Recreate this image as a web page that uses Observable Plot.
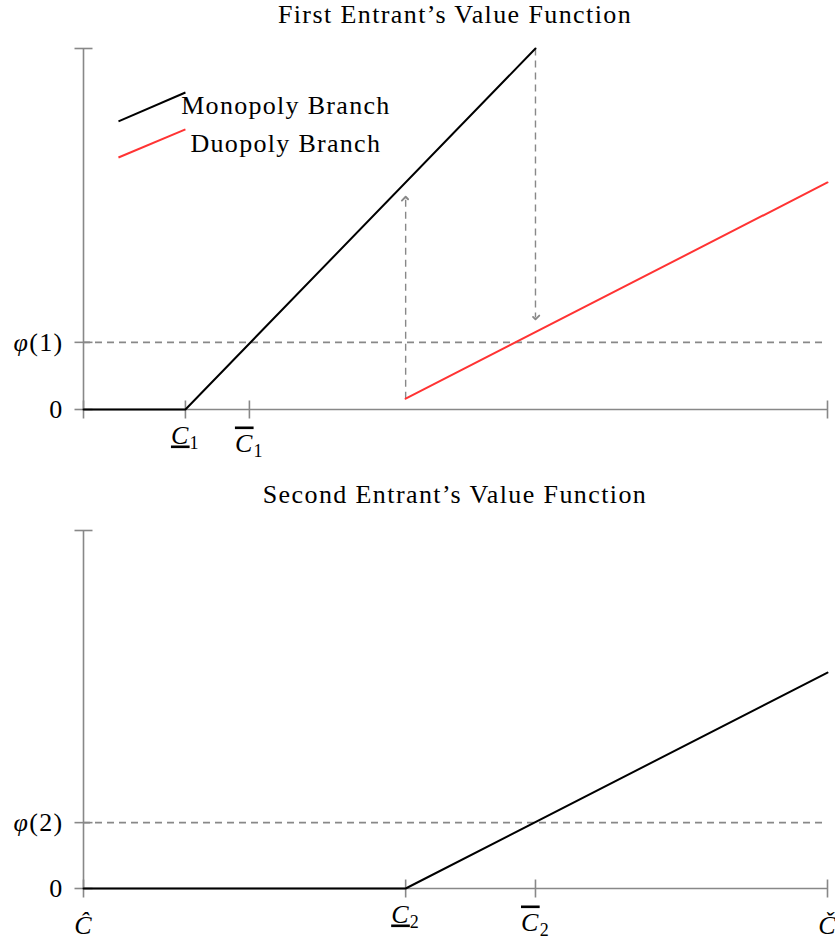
<!DOCTYPE html>
<html><head><meta charset="utf-8">
<script src="https://cdn.jsdelivr.net/npm/d3@7"></script>
<script src="https://cdn.jsdelivr.net/npm/@observablehq/plot@0.6"></script>
<style>
body{margin:0;background:#fff;}
#wrap{position:relative;width:835px;height:941px;overflow:hidden;font-family:"Liberation Serif",serif;}
.title{position:absolute;left:83px;width:744px;text-align:center;font-size:26px;line-height:30px;letter-spacing:1.4px;color:#000;}
#wrap svg{position:absolute;left:0;}
</style></head><body><div id="wrap"></div>
<script>
// ---- shared scales (abstract units) ----
const xDomain = [0, 100];
const yDomain = [0, 100];

// ---- top panel: First Entrant ----
const titleTop = "First Entrant\u2019s Value Function";
const monoX = [0, 13.7, 60.75];
const monoY = [0, 0, 100];
const duoX = [43.3, 100];
const duoY = [3.0, 62.9];
const phi1 = 18.6;
const xTicksTop = [0, 13.7, 22.3, 100];
const xTickLabelsTop = ["", "\\underline{C}_1", "\\overline{C}_1", ""];
const yTicksTop = [0, phi1, 100];
const yTickLabelsTop = ["0", "\\varphi(1)", ""];
const arrowUpX = 43.3, arrowUpFrom = 3.0, arrowUpTo = 58.4;
const arrowDownX = 60.75, arrowDownFrom = 100, arrowDownTo = 25.5;
const legendNames = ["Monopoly Branch", "Duopoly Branch"];
const legendColors = ["#000000", "#ff3333"];
const legendX1 = [4.7, 4.7], legendY1 = [79.8, 69.8];
const legendX2 = [13.7, 13.7], legendY2 = [87.8, 77.6];
const legendTextX = [27.2, 27.2], legendTextY = [84.2, 73.7];

// ---- bottom panel: Second Entrant ----
const titleBottom = "Second Entrant\u2019s Value Function";
const secX = [0, 43.3, 100];
const secY = [0, 0, 60.3];
const phi2 = 18.4;
const xTicksBottom = [0, 43.3, 60.75, 100];
const xTickLabelsBottom = ["\\hat{C}", "\\underline{C}_2", "\\overline{C}_2", "\\check{C}"];
const yTicksBottom = [0, phi2, 100];
const yTickLabelsBottom = ["0", "\\varphi(2)", ""];

// ---- styles ----
const gray = "#888888";
const dash = "7,5";
const vTick = {draw(ctx){ ctx.moveTo(0,-9); ctx.lineTo(0,9); }};
const hTick = {draw(ctx){ ctx.moveTo(-9,0); ctx.lineTo(9,0); }};

const pts = (xs, ys) => xs.map((x, i) => ({x, y: ys[i]}));

function axesMarks(xTicks, xLabels, yTicks, yLabels) {
  return [
    Plot.ruleY([0], {stroke: gray, strokeWidth: 1.6}),
    Plot.ruleX([0], {stroke: gray, strokeWidth: 1.6}),
    Plot.dot(xTicks, {x: d => d, y: 0, symbol: vTick, fill: "none", stroke: gray, strokeWidth: 1.6}),
    Plot.dot(yTicks, {x: 0, y: d => d, symbol: hTick, fill: "none", stroke: gray, strokeWidth: 1.6}),
    Plot.text(xTicks, {x: d => d, y: 0, text: (d, i) => xLabels[i],
      fontSize: 26, lineAnchor: "bottom", textAnchor: "middle"}),
    Plot.text(yTicks, {x: 0, y: d => d, text: (d, i) => yLabels[i], fontSize: 26,
      textAnchor: "end", dx: -20})
  ];
}

function mathify(svg) {
  d3.select(svg).selectAll("text").each(function() {
    const t = this.textContent;
    let m;
    const sel = d3.select(this);
    if ((m = t.match(/^\\(underline|overline)\{C\}_(\d)$/))) {
      const under = m[1] === "underline";
      sel.text("");
      sel.attr("transform", (sel.attr("transform") || "") + ` translate(0,${under ? 34 : 42})`);
      sel.append("tspan").attr("font-style", "italic")
        .style("text-decoration", under ? "underline" : "overline").text("C");
      sel.append("tspan").attr("font-size", 18).attr("dy", 5).text(m[2]);
    } else if ((m = t.match(/^\\(hat|check)\{C\}$/))) {
      sel.text("");
      sel.attr("transform", (sel.attr("transform") || "") + " translate(0,45)");
      sel.append("tspan").attr("font-style", "italic").text(m[1] === "hat" ? "\u0108" : "\u010C");
    } else if ((m = t.match(/^\\varphi(\(\d\))$/))) {
      sel.text("");
      sel.append("tspan").attr("font-style", "italic").text("\u03C6");
      sel.append("tspan").text(m[1]);
    }
  });
  // larger arrowheads (TikZ "to" tips)
  d3.select(svg).selectAll("marker").attr("markerWidth", 9).attr("markerHeight", 9);
}

const common = {
  width: 835,
  marginLeft: 83, marginRight: 8,
  x: {domain: xDomain, axis: null},
  style: {fontFamily: "Liberation Serif, serif", fontSize: "26px", background: "white", overflow: "visible"}
};

// top chart
const chartTop = Plot.plot({
  ...common,
  height: 470, marginTop: 48, marginBottom: 61,
  y: {domain: yDomain, axis: null},
  marks: [
    Plot.ruleY([phi1], {stroke: gray, strokeWidth: 1.6, strokeDasharray: dash}),
    ...axesMarks(xTicksTop, xTickLabelsTop, yTicksTop, yTickLabelsTop),
    Plot.link([0], {x1: arrowUpX, x2: arrowUpX, y1: arrowUpFrom, y2: arrowUpTo,
      stroke: gray, strokeWidth: 1.4, strokeDasharray: dash, markerEnd: "arrow"}),
    Plot.link([0], {x1: arrowDownX, x2: arrowDownX, y1: arrowDownFrom, y2: arrowDownTo,
      stroke: gray, strokeWidth: 1.4, strokeDasharray: dash, markerEnd: "arrow"}),
    Plot.line(pts(monoX, monoY), {x: "x", y: "y", stroke: "#000", strokeWidth: 2}),
    Plot.line(pts(duoX, duoY), {x: "x", y: "y", stroke: "#ff3333", strokeWidth: 2}),
    Plot.link(legendNames, {x1: (d, i) => legendX1[i], y1: (d, i) => legendY1[i],
      x2: (d, i) => legendX2[i], y2: (d, i) => legendY2[i], stroke: (d, i) => legendColors[i], strokeWidth: 2}),
    Plot.text(legendNames, {x: (d, i) => legendTextX[i], y: (d, i) => legendTextY[i], text: d => d,
      fontSize: 26, textAnchor: "middle", fill: "#000"})
  ]
});
chartTop.style.top = "0px";

// bottom chart
const chartBottom = Plot.plot({
  ...common,
  height: 461, marginTop: 50, marginBottom: 53,
  y: {domain: yDomain, axis: null},
  marks: [
    Plot.ruleY([phi2], {stroke: gray, strokeWidth: 1.6, strokeDasharray: dash}),
    ...axesMarks(xTicksBottom, xTickLabelsBottom, yTicksBottom, yTickLabelsBottom),
    Plot.line(pts(secX, secY), {x: "x", y: "y", stroke: "#000", strokeWidth: 2})
  ]
});
chartBottom.style.top = "480px";

const wrap = document.getElementById("wrap");
const t1 = document.createElement("div"); t1.className = "title"; t1.style.top = "0px"; t1.textContent = titleTop;
const t2 = document.createElement("div"); t2.className = "title"; t2.style.top = "480px"; t2.textContent = titleBottom;
wrap.append(chartTop, chartBottom, t1, t2);
mathify(chartTop); mathify(chartBottom);
d3.selectAll("#wrap svg text").style("letter-spacing", "1.3px");
</script>
</body></html>
